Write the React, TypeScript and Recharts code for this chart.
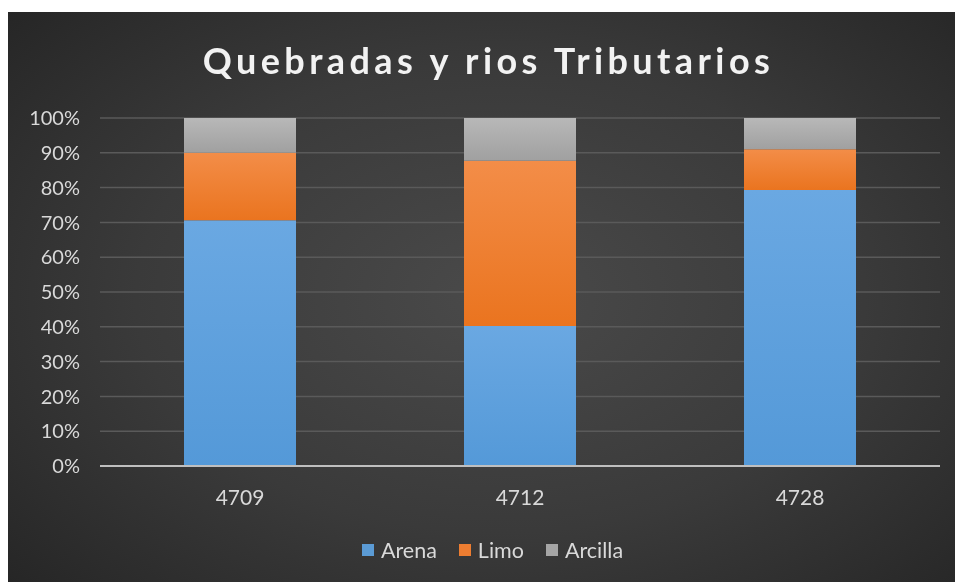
import React from "react";
import { BarChart, Bar, XAxis, YAxis, CartesianGrid, Legend } from "recharts";

const categories = ["4709", "4712", "4728"];
const arena = [70.6, 40.2, 79.3];
const limo = [19.4, 47.5, 11.7];
const arcilla = [10.0, 12.3, 9.0];
const yTicks = [0, 10, 20, 30, 40, 50, 60, 70, 80, 90, 100];

const seriesInfo = [
  { key: "Arena", color: "#5b9bd5", grad: "gArena" },
  { key: "Limo", color: "#ed7d31", grad: "gLimo" },
  { key: "Arcilla", color: "#a5a5a5", grad: "gArcilla" },
];

const data = categories.map((c, i) => ({
  cat: c,
  Arena: arena[i],
  Limo: limo[i],
  Arcilla: arcilla[i],
}));

const FONT = "Lato, 'Open Sans', sans-serif";

const LegendContent = () => (
  <div
    style={{
      display: "flex",
      justifyContent: "center",
      alignItems: "center",
      paddingLeft: 22,
      fontFamily: FONT,
      fontSize: 21.5,
      color: "#d9d9d9",
    }}
  >
    {seriesInfo.map((s, i) => (
      <div
        key={s.key}
        style={{ display: "flex", alignItems: "center", marginLeft: i === 0 ? 0 : 22 }}
      >
        <span
          style={{
            display: "inline-block",
            width: 12,
            height: 12,
            background: s.color,
            marginRight: 7,
          }}
        />
        <span>{s.key}</span>
      </div>
    ))}
  </div>
);

export default function App() {
  return (
    <div
      style={{
        position: "fixed",
        top: 12,
        left: 8,
        right: 0,
        bottom: 0,
        background:
          "radial-gradient(ellipse 70% 75% at 52% 50%, #4a4a4a 0%, #3a3a3a 55%, #262626 100%)",
        overflow: "hidden",
      }}
    >
      <div
        style={{
          position: "absolute",
          top: 30,
          left: 0,
          width: 947,
          textAlign: "center",
          fontFamily: FONT,
          fontWeight: 700,
          fontSize: 36,
          lineHeight: 1,
          letterSpacing: 4.4,
          color: "#f2f2f2",
          paddingLeft: 14,
          boxSizing: "border-box",
        }}
      >
        Quebradas y rios Tributarios
      </div>
      <div style={{ position: "absolute", top: 0, left: 0 }}>
        <BarChart
          width={947}
          height={570}
          data={data}
          margin={{ top: 106, right: 15, bottom: 86, left: 0 }}
          barCategoryGap="30%"
        >
          <defs>
            <linearGradient id="gArena" x1="0" y1="0" x2="0" y2="1">
              <stop offset="0%" stopColor="#6aa8e2" />
              <stop offset="100%" stopColor="#5499d8" />
            </linearGradient>
            <linearGradient id="gLimo" x1="0" y1="0" x2="0" y2="1">
              <stop offset="0%" stopColor="#f38d48" />
              <stop offset="100%" stopColor="#ea741f" />
            </linearGradient>
            <linearGradient id="gArcilla" x1="0" y1="0" x2="0" y2="1">
              <stop offset="0%" stopColor="#b8b8b8" />
              <stop offset="100%" stopColor="#a0a0a0" />
            </linearGradient>
          </defs>
          <CartesianGrid vertical={false} stroke="#5a5a5a" strokeWidth={1.5} />
          <XAxis
            dataKey="cat"
            axisLine={{ stroke: "#bfbfbf", strokeWidth: 2 }}
            tickLine={false}
            tickMargin={18}
            height={30}
            tick={{ fill: "#d9d9d9", fontSize: 21, fontFamily: FONT }}
          />
          <YAxis
            width={92}
            domain={[0, 100]}
            ticks={yTicks}
            axisLine={false}
            tickLine={false}
            tickMargin={14}
            tickFormatter={(v: number) => `${v}%`}
            tick={{ fill: "#d9d9d9", fontSize: 20, fontFamily: FONT }}
          />
          <Legend
            verticalAlign="middle"
            layout="horizontal"
            wrapperStyle={{ top: 525, left: 0, width: 947 }}
            content={() => <LegendContent />}
          />
          {seriesInfo.map((s) => (
            <Bar
              key={s.key}
              dataKey={s.key}
              stackId="a"
              fill={`url(#${s.grad})`}
              isAnimationActive={false}
            />
          ))}
        </BarChart>
      </div>
    </div>
  );
}
